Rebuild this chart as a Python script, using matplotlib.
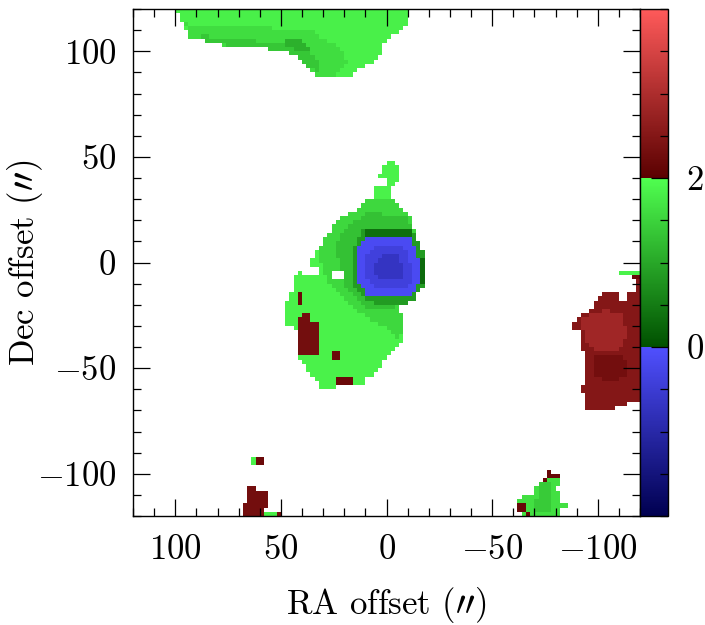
import numpy as np
import matplotlib
matplotlib.use("Agg")
import matplotlib.pyplot as plt
from matplotlib.colors import LinearSegmentedColormap, Normalize
from matplotlib.path import Path
from matplotlib.ticker import MultipleLocator, FixedLocator

plt.rcParams['font.family'] = 'serif'
plt.rcParams['font.serif'] = ['cmr10']
plt.rcParams['mathtext.fontset'] = 'cm'
plt.rcParams['axes.formatter.use_mathtext'] = True

# map grid (arcsec)
half_size = 120
cell = 2.0

# region outlines, (RA offset, Dec offset) in arcsec
north_blob = [(100.8, 121), (-9.6, 121), (-9.6, 113), (-6.5, 110.6), (-5.0, 108.7), (-0.8, 106.8),
              (-0.3, 104.9), (3.0, 102.6), (3.0, 98.8), (6.8, 94.6), (11.0, 92.7), (13.4, 90.8),
              (16.2, 88.9), (20.5, 87.0), (30.9, 87.0), (32.8, 90.8), (34.6, 94.6), (37.0, 96.9),
              (40.8, 98.8), (44.6, 100.7), (52.6, 101.2), (52.6, 102.6), (77.2, 103.0), (77.2, 104.5),
              (85.2, 105.0), (85.2, 106.4), (93.3, 106.9), (93.3, 108.7), (95.2, 110.6), (97.0, 114.4),
              (98.9, 117.7)]
north_mid = [(95, 113), (80, 112), (55, 111), (35, 109), (22, 102), (18, 95), (25, 88), (32, 88),
             (45, 100), (78, 103), (93, 107)]
north_dark = [(88, 107.5), (78, 106), (55, 104.5), (45, 103), (38, 100), (33, 95), (31, 90), (36, 92),
              (42, 97.5), (48, 100), (60, 101.5), (78, 103.2), (88, 105.5)]
north_core = [(47, 106), (40, 105), (37, 101), (42, 100), (47, 102)]

central_blob = [(-1.0, 48.6), (-3.3, 48.6), (-3.3, 46.7), (-5.2, 46.7), (-5.2, 38.0), (-3.1, 38.0),
                (-3.1, 35.0), (-1.4, 35.0), (-1.4, 27.0), (-5.7, 27.0), (-7.3, 24.6), (-9.0, 22.5),
                (-11.2, 20.7), (-11.2, 12.3), (-13.6, 10.0), (-15.0, 5.7), (-17.5, 1.0), (-17.5, -9.3),
                (-15.0, -11.0), (-13.6, -13.2), (-11.2, -16.4), (-6.5, -19.4), (-5.0, -20.5),
                (-3.0, -22.0), (-4.9, -23.5), (-8.8, -27.4), (-8.8, -36.0), (-5.7, -38.4),
                (-3.3, -41.6), (-1.7, -43.2), (0.6, -45.5), (3.0, -49.5), (5.3, -52.6), (9.3, -55.0),
                (10.9, -57.4), (23.4, -57.4), (23.4, -59.3), (31.0, -59.3), (31.0, -57.4),
                (32.9, -55.8), (34.5, -53.4), (36.4, -51.9), (38.4, -49.5), (40.8, -46.5),
                (42.7, -44.8), (42.7, -31.2), (44.7, -30.6), (47.0, -30.6), (47.0, -18.0),
                (44.7, -13.2), (42.7, -5.0), (40.8, -5.0), (40.8, -3.5), (39.2, -3.5), (39.2, -6.9),
                (31.3, -6.9), (31.3, -1.4), (36.4, -1.4), (36.4, 0.9), (35.3, 2.5), (33.2, 5.7),
                (31.3, 8.0), (29.0, 10.4), (26.6, 15.1), (25.0, 17.5), (22.7, 19.8), (18.7, 22.2),
                (14.8, 24.6), (10.9, 27.0), (9.0, 28.5), (6.9, 30.0), (6.9, 35.0), (0.6, 35.0),
                (0.6, 40.7), (4.5, 40.7), (4.5, 42.7), (2.6, 42.7), (2.6, 46.7), (-1.0, 46.7)]
central_mid = [(9, 30), (-2, 30), (-11.2, 21), (-18, 0), (-14, -16), (-6, -21), (-9, -30), (-6, -36),
               (2, -30), (12, -24), (22, -16), (28, -8), (30, -2), (33, 4), (30, 10), (26, 16),
               (20, 22), (12, 26)]
central_mid2 = [(8, 24), (-10, 21), (-17, 2), (-13, -16), (-3, -21), (8, -22), (18, -14), (22, -4),
                (24, 8), (20, 16)]
core_ring = [(11, 16.5), (-11.2, 16.5), (-17.5, 6), (-17.5, -11), (-12, -18.5), (-3, -20), (9, -18.5),
             (15.5, -12), (17, -4), (16.5, 6)]
ring_top = [(9, 16.0), (-11.2, 16.0), (-11.2, 12.3), (9, 12.3)]
ring_east = [(-15, 2), (-17.5, 2), (-17.5, -10), (-15, -10)]
blue_core = [(8.5, 12.3), (-11.2, 12.3), (-13.6, 5.7), (-15.1, 0.9), (-15.1, -9.3), (-13.6, -13.2),
             (-11.2, -16.4), (8.0, -16.4), (12.4, -10.9), (14.8, -8.5), (14.8, 2.5), (12.4, 9.6)]
blue_inner = [(5, 8), (-8, 8), (-11, 0), (-11, -9), (-8, -12.5), (5, -12.5), (10, -7), (10, 3)]
blue_centre = [(2, 4), (-5, 4), (-7, -1), (-7, -7), (-4, -9), (2, -9), (5, -5), (5, 0)]
central_hole = [(26.9, -3.5), (20.8, -3.5), (20.8, -9.0), (26.9, -9.0)]
red_patch = [(42.7, -27.4), (40.8, -25.0), (35.3, -25.0), (35.3, -27.4), (31.4, -27.4), (31.4, -40.0),
             (33.0, -44.8), (40.8, -44.8), (42.7, -42.0)]
red_speck = [(26, -43), (23, -43), (23, -45.5), (26, -45.5)]
red_west = [(41.7, -13.2), (39.3, -13.2), (39.3, -19.4), (41.7, -19.4)]
red_south = [(23.2, -54.8), (16.8, -54.8), (16.8, -57.4), (23.2, -57.4)]

east_red = [(-117.5, -8.8), (-121, -8.8), (-121, -65.2), (-114.8, -65.2), (-114.8, -67.6),
            (-107.3, -67.6), (-107.3, -69.2), (-95.0, -69.2), (-95.0, -70.8), (-93.4, -70.8),
            (-93.4, -61.3), (-92.0, -61.3), (-92.0, -59.0), (-93.4, -59.0), (-93.4, -41.6),
            (-91.9, -41.6), (-91.9, -31.3), (-87.6, -31.3), (-87.6, -29.3), (-89.7, -27.4),
            (-91.9, -25.0), (-95.5, -23.0), (-97.8, -21.1), (-99.4, -17.2), (-101.8, -14.8),
            (-109.6, -14.8), (-109.6, -17.2), (-113.6, -17.2), (-113.6, -14.8), (-117.5, -14.8)]
east_light = [(-92, -27), (-104, -22), (-112, -25), (-114, -35), (-110, -42), (-100, -42), (-94, -38)]
east_dark = [(-98, -44), (-112, -44), (-115, -52), (-108, -56), (-98, -54)]
east_green = [(-109.5, -3.3), (-121, -3.3), (-121, -6.9), (-113.6, -6.9), (-113.6, -5.2), (-109.5, -5.2)]
east_speck = [(-116, -7.0), (-119, -7.0), (-119, -8.8), (-116, -8.8)]

south_green = [(-75.5, -97.5), (-77.4, -97.5), (-77.4, -99.4), (-81.8, -99.4), (-81.8, -101.4),
               (-81.0, -101.4), (-81.0, -105.1), (-79.7, -105.1), (-79.7, -109.0), (-82.0, -109.0),
               (-82.0, -113.3), (-85.3, -113.3), (-85.3, -115.2), (-82.0, -115.2), (-82.0, -121),
               (-65.0, -121), (-63.2, -116.0), (-61.3, -115.2), (-61.3, -113.3), (-63.2, -111.0),
               (-69.5, -111.0), (-69.5, -107.0), (-71.4, -107.0), (-71.4, -103.5), (-73.9, -103.5),
               (-73.9, -101.4), (-75.5, -101.4)]
south_mid = [(-72, -105), (-78, -105), (-79, -118), (-70, -118)]
south_cap = [(-75.5, -97.5), (-77.4, -97.5), (-77.4, -99.4), (-81.8, -99.4), (-81.8, -101.4),
             (-75.5, -101.4), (-75.5, -103.5), (-73.9, -103.5), (-73.9, -101.4), (-75.5, -101.4)]
south_edge = [(-61.3, -113.3), (-63.5, -113.3), (-70.5, -121), (-67.5, -121), (-61.3, -115.5)]

sw_red = [(66.8, -105.4), (61.2, -105.4), (61.2, -107.5), (56.9, -107.5), (56.9, -115.0), (58.0, -116.0),
          (58.0, -118.0), (51.0, -118.0), (51.0, -121), (68.3, -121), (68.3, -117.3), (66.8, -114.0)]
sw_green = [(58, -118.0), (52.5, -118.0), (52.5, -121), (58, -121)]
sw_pix_green = [(63.5, -93.0), (61.0, -93.0), (61.0, -95.5), (63.5, -95.5)]
sw_pix_red = [(61.0, -93.0), (58.5, -93.0), (58.5, -95.5), (61.0, -95.5)]

# (outline, value) painted in order, later ones on top; nan leaves a gap
layers = [
    (north_blob, 1.82), (north_mid, 1.6), (north_dark, 1.35), (north_core, 1.1),
    (central_blob, 1.85), (central_mid, 1.55), (central_mid2, 1.3), (core_ring, 0.85),
    (ring_top, 0.35), (ring_east, 0.3),
    (blue_core, -0.15), (blue_inner, -0.4), (blue_centre, -0.7), (central_hole, np.nan),
    (red_patch, 2.3), (red_speck, 2.2), (red_west, 2.2), (red_south, 2.2),
    (east_red, 2.5), (east_light, 2.85), (east_dark, 2.3), (east_green, 1.85), (east_speck, 2.2),
    (south_green, 1.65), (south_mid, 1.4), (south_cap, 2.15), (south_edge, 2.15),
    (sw_red, 2.3), (sw_green, 1.8), (sw_pix_green, 1.85), (sw_pix_red, 2.2),
]

edges = np.arange(-half_size, half_size + cell, cell)
centres = edges[:-1] + cell / 2
cx, cy = np.meshgrid(centres, centres)
pts = np.column_stack([cx.ravel(), cy.ravel()])

grid = np.full(cx.shape, np.nan)
for outline, value in layers:
    inside = Path(outline).contains_points(pts).reshape(cx.shape)
    grid[inside] = value
grid = np.ma.masked_invalid(grid)

# blue / green / red colour table, -2 .. 4
seg = {
    'red':   [(0, 0, 0), (1/3, 80/255, 0), (2/3, 80/255, 90/255), (1, 1, 1)],
    'green': [(0, 0, 0), (1/3, 80/255, 80/255), (2/3, 1, 0), (1, 90/255, 90/255)],
    'blue':  [(0, 80/255, 80/255), (1/3, 1, 0), (2/3, 80/255, 0), (1, 90/255, 90/255)],
}
cmap = LinearSegmentedColormap('rgb_vel', seg, N=600)
norm = Normalize(vmin=-2, vmax=4)

fig = plt.figure(figsize=(7.05, 6.25), dpi=100)
ax = fig.add_axes([0.1887, 0.1744, 0.7191, 0.8112])
mesh = ax.pcolormesh(edges, edges, grid, cmap=cmap, norm=norm, shading='flat', antialiased=False)
ax.set_xlim(120, -120)
ax.set_ylim(-120, 120)

ax.xaxis.set_major_locator(MultipleLocator(50))
ax.xaxis.set_minor_locator(MultipleLocator(10))
ax.yaxis.set_major_locator(MultipleLocator(50))
ax.yaxis.set_minor_locator(MultipleLocator(10))
ax.tick_params(which='both', direction='in', top=True, right=True, width=0.9, labelsize=25)
ax.tick_params(which='major', length=12)
ax.tick_params(which='minor', length=6)
ax.tick_params(axis='x', pad=13)
ax.tick_params(axis='y', pad=12)
for sp in ax.spines.values():
    sp.set_linewidth(1.0)

ax.set_xlabel(r"RA offset $(\prime\prime)$", fontsize=25)
ax.set_ylabel(r"Dec offset $(\prime\prime)$", fontsize=25)
ax.xaxis.set_label_coords(0.5, -0.176)
ax.xaxis.label.set_va('center')
ax.yaxis.set_label_coords(-0.213, 0.5)
ax.yaxis.label.set_va('center')

cax = fig.add_axes([0.9078, 0.1744, 0.0397, 0.8112])
cb = fig.colorbar(mesh, cax=cax)
cb.outline.set_linewidth(1.0)
cax.yaxis.set_major_locator(FixedLocator([0, 2]))
cax.yaxis.set_minor_locator(MultipleLocator(0.5))
cax.tick_params(which='both', direction='in', left=False, right=True, width=0.9, labelsize=25, pad=13)
cax.tick_params(which='major', length=12)
cax.tick_params(which='minor', length=6)

plt.savefig("out.png", dpi=100)
